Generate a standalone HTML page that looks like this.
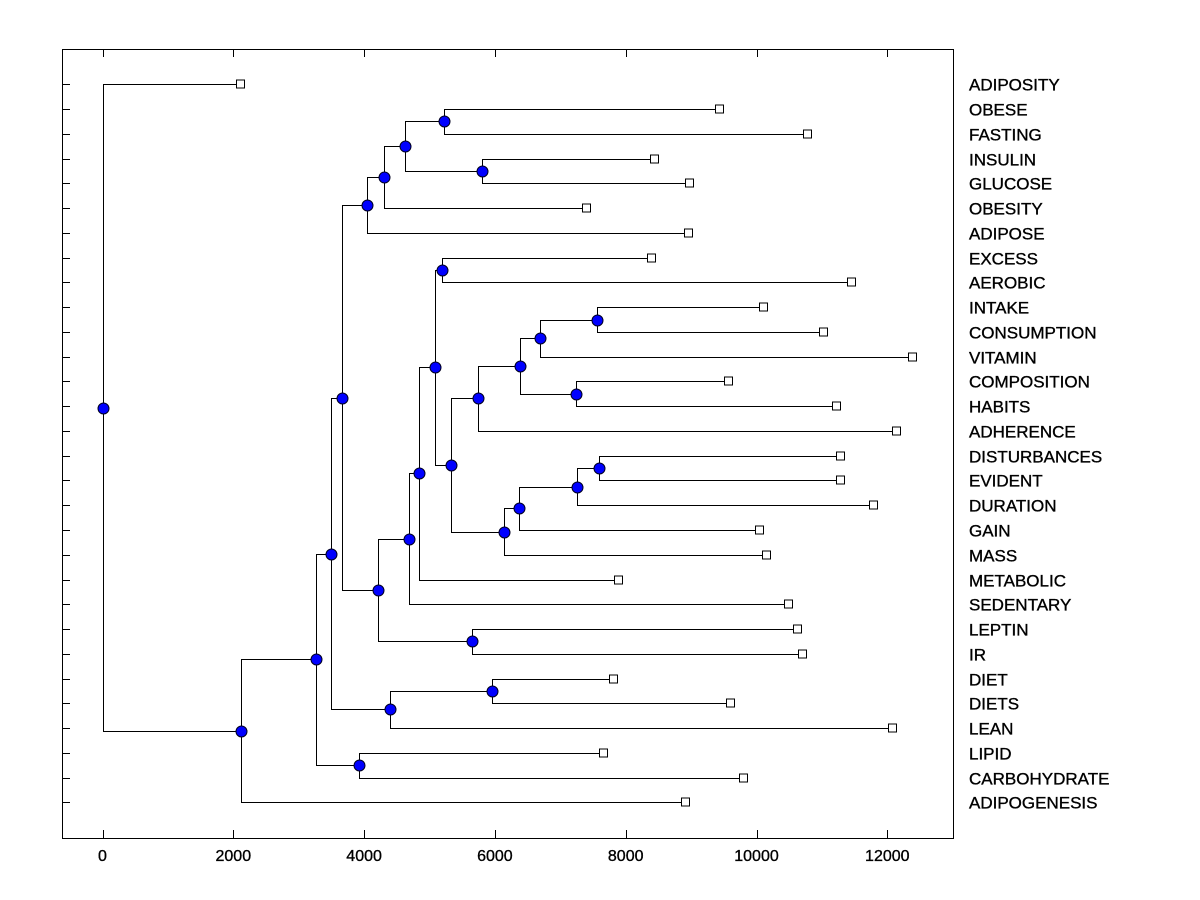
<!DOCTYPE html>
<html><head><meta charset="utf-8"><style>
html,body{margin:0;padding:0;background:#fff}
svg{display:block;font-family:"Liberation Sans",Arial,sans-serif}
text{stroke:#000;stroke-width:0.35}
</style></head><body>
<svg id="chart" width="1200" height="900"></svg>
<script>
const leafLabels=["ADIPOSITY","OBESE","FASTING","INSULIN","GLUCOSE","OBESITY","ADIPOSE","EXCESS","AEROBIC","INTAKE","CONSUMPTION","VITAMIN","COMPOSITION","HABITS","ADHERENCE","DISTURBANCES","EVIDENT","DURATION","GAIN","MASS","METABOLIC","SEDENTARY","LEPTIN","IR","DIET","DIETS","LEAN","LIPID","CARBOHYDRATE","ADIPOGENESIS"];
const leafValues=[2118,9440,10787,8448,8983,7408,8968,8402,11460,10115,11032,12393,9579,11231,12148,11292,11292,11797,10053,10160,7897,10497,10635,10711,7821,9610,12087,7668,9809,8922];
const nodeIds=["root","A","B","D","C","F","G","E","H","J","K","L","M","I","O","N","P","Q","R","S","T","V","W","Y","X","U","Z","AA","BB"];
const nodeValues=[0,2118,3268,3922,3497,4396,5956,3662,4044,4304,4625,5222,5803,4212,5654,4686,4840,5084,5191,5329,5742,6384,6690,7561,7240,6139,6361,7255,7592];
const nodeChildren=[["ADIPOSITY","A"],["B","ADIPOGENESIS"],["C","D"],["LIPID","CARBOHYDRATE"],["E","F"],["G","LEAN"],["DIET","DIETS"],["H","I"],["J","ADIPOSE"],["K","OBESITY"],["L","M"],["OBESE","FASTING"],["INSULIN","GLUCOSE"],["N","O"],["LEPTIN","IR"],["P","SEDENTARY"],["Q","METABOLIC"],["R","S"],["EXCESS","AEROBIC"],["T","U"],["V","ADHERENCE"],["W","X"],["Y","VITAMIN"],["INTAKE","CONSUMPTION"],["COMPOSITION","HABITS"],["Z","MASS"],["AA","GAIN"],["BB","DURATION"],["DISTURBANCES","EVIDENT"]];
const xTicks=[0,2000,4000,6000,8000,10000,12000];

const svg=document.getElementById('chart');
const NS='http://www.w3.org/2000/svg';
const L=62,R=953,T=49,B=838;
const xs=v=>102.5+v*0.0654;
const ys=i=>84.3+i*24.76;
function mk(tag,attrs,parent){const e=document.createElementNS(NS,tag);for(const k in attrs)e.setAttribute(k,attrs[k]);(parent||svg).appendChild(e);return e;}

const frame=mk('rect',{x:L+0.5,y:T+0.5,width:R-L,height:B-T,fill:'none',stroke:'#000','stroke-width':1});



const gx=mk('g',{});


xTicks.forEach(t=>{
  const x=Math.round(xs(t))+0.5;
  mk('line',{x1:x,x2:x,y1:B,y2:B-8,stroke:'#000'},gx);
  mk('line',{x1:x,x2:x,y1:T,y2:T+8,stroke:'#000'},gx);
  const tx=mk('text',{x:xs(t),y:861,'text-anchor':'middle','font-size':16},gx);
  tx.textContent=t;
  
  
});

const pos={};
leafLabels.forEach((n,i)=>{pos[n]={x:xs(leafValues[i]),y:ys(i)};});
function getPos(id){
  if(pos[id])return pos[id];
  const k=nodeIds.indexOf(id);
  const a=getPos(nodeChildren[k][0]),b=getPos(nodeChildren[k][1]);
  pos[id]={x:xs(nodeValues[k]),y:(a.y+b.y)/2};
  return pos[id];
}
nodeIds.forEach(getPos);

const gl=mk('g',{});


nodeIds.forEach((id,k)=>{
  const p=pos[id];
  const a=pos[nodeChildren[k][0]],b=pos[nodeChildren[k][1]];
  const px=Math.round(p.x)+0.5;
  mk('path',{d:`M${Math.round(a.x)},${Math.round(a.y)+0.5}H${px}V${Math.round(b.y)+0.5}H${Math.round(b.x)}`,fill:'none',stroke:'#000','stroke-width':1},gl);
});

const gy=mk('g',{});


leafLabels.forEach((n,i)=>{
  const y=Math.round(ys(i))+0.5;
  mk('line',{x1:L,x2:L+8,y1:y,y2:y,stroke:'#000'},gy);
  const sq=mk('rect',{x:Math.round(pos[n].x)-4.5,y:y-4.5,width:8,height:8,fill:'#fff',stroke:'#000'},gy);
  
  
  const tx=mk('text',{x:969,y:y+6,'font-size':17},gy);
  tx.textContent=n;
  
  
});

const gn=mk('g',{});


nodeIds.forEach(id=>{
  const c=mk('circle',{cx:Math.round(pos[id].x)+0.5,cy:Math.round(pos[id].y)+0.5,r:5.5,fill:'#0000ff',stroke:'#000020','stroke-width':1},gn);
  
  
});
</script>
</body></html>
